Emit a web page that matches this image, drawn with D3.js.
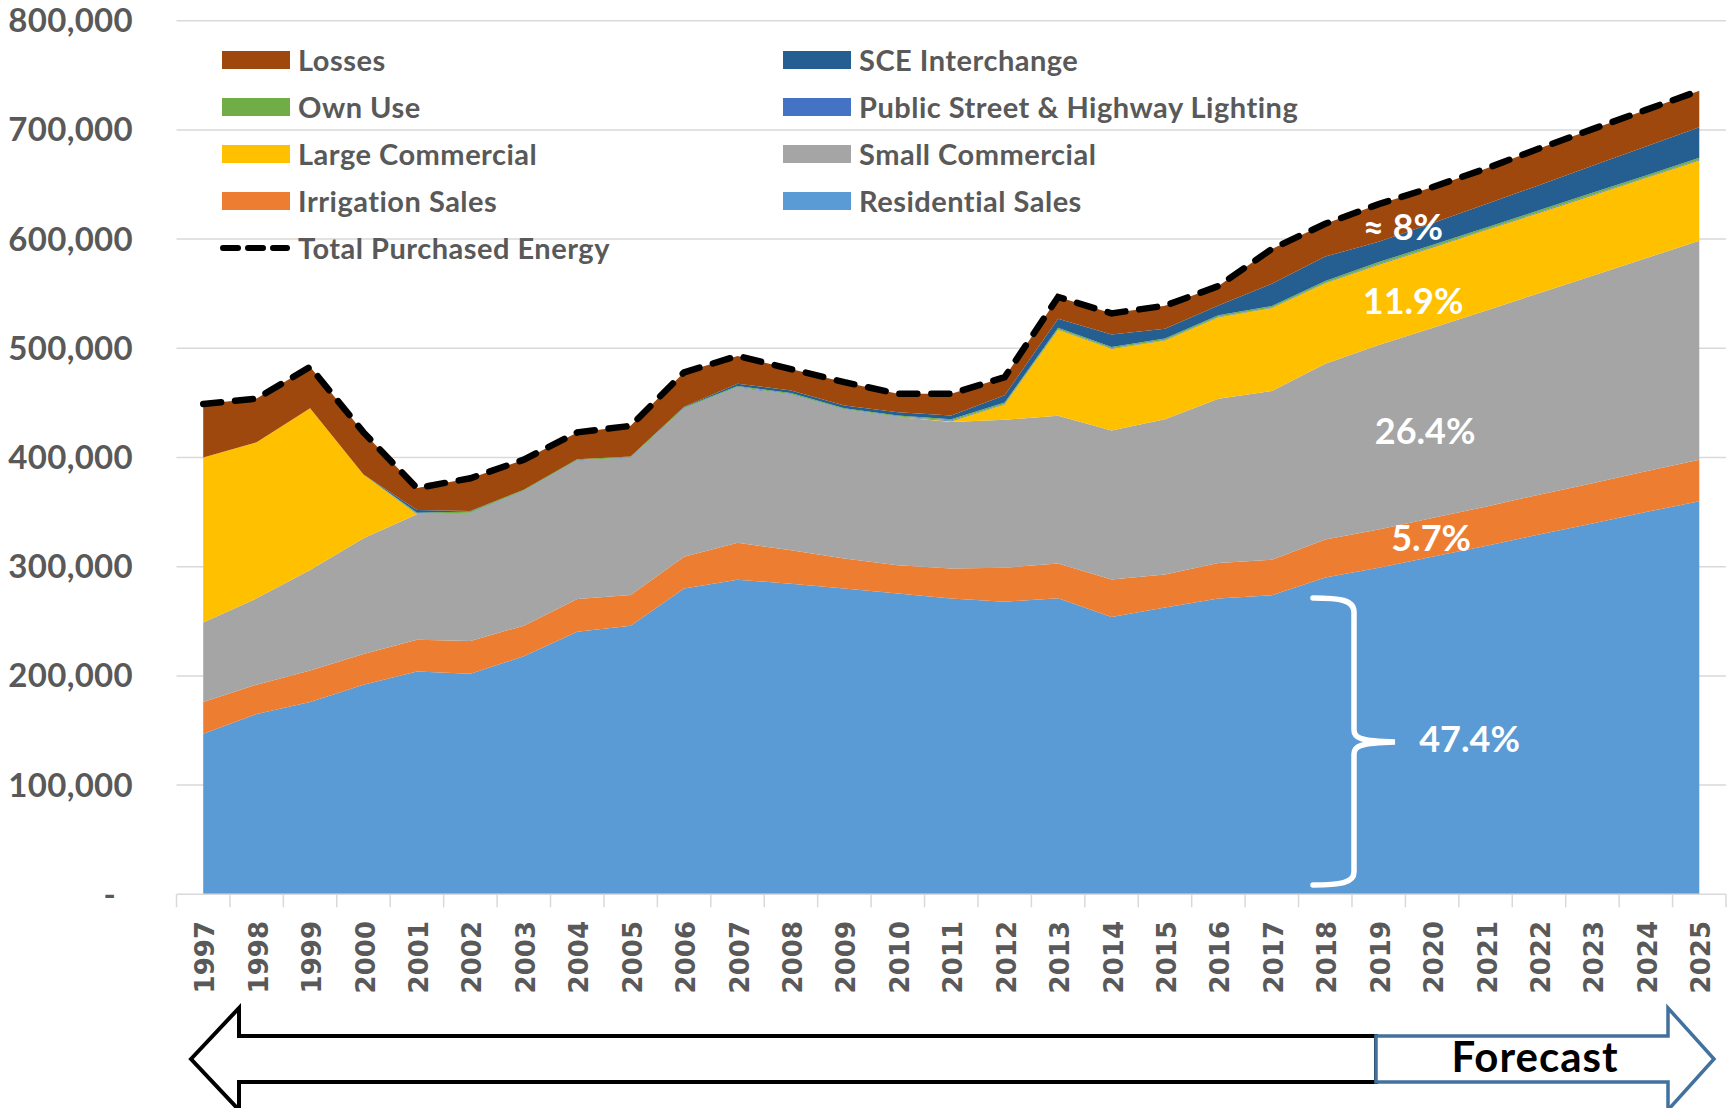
<!DOCTYPE html>
<html>
<head>
<meta charset="utf-8">
<script src="https://cdn.jsdelivr.net/npm/d3@7"></script>
<style>
  body { margin: 0; background: #ffffff; }
  #chart svg { display: block; }
</style>
</head>
<body>
<div id="chart"></div>
<script>

/* DATA (MWh) */
const years = ["1997","1998","1999","2000","2001","2002","2003","2004","2005","2006",
  "2007","2008","2009","2010","2011","2012","2013","2014","2015","2016",
  "2017","2018","2019","2020","2021","2022","2023","2024","2025"];

const residentialSales = [147000,165000,176000,192000,204000,202000,218000,240500,246000,280000,
  288000,284500,280000,275400,270800,268000,271000,254000,262600,270800,
  273800,290000,299000,309000,319000,329500,339500,350000,360000];
const irrigationSales = [29000,27000,29000,28000,29000,30000,28000,30000,28000,29000,
  34000,30500,27400,25900,27500,31000,32000,34200,30200,32600,
  32600,34800,35000,35500,36000,36500,37000,37500,38000];
const smallCommercial = [73000,79000,92000,106000,115000,117000,123000,126500,125500,135600,
  142000,142500,136300,135700,134100,135600,135200,136600,142300,150400,
  154400,161000,169000,174000,179500,184500,190000,195000,200500];
const largeCommercial = [151000,143000,148000,58500,0,0,0,0,0,0,
  0,0,0,0,900,14000,78800,74700,72000,74700,
  76000,73800,73600,73600,73500,73500,73500,73400,73500];
const publicLighting = [0,0,0,0,500,500,500,500,500,500,
  500,500,500,500,500,500,500,500,500,500,
  500,500,600,600,600,600,600,600,600];
const ownUse = [0,0,0,0,1000,1000,1000,1000,1000,1000,
  1000,1000,1000,1000,1200,1200,1300,1300,1300,1300,
  1400,1500,1800,1800,1800,1800,1800,1800,1800];
const sceInterchange = [0,0,0,0,2500,500,0,0,0,400,
  2000,2400,2500,3000,3500,6700,8200,11300,8900,8900,
  20300,22400,18500,20000,21500,23000,24800,26500,28000];
const losses = [49000,40000,38000,38500,20000,30000,27500,24500,28000,31500,
  25500,19600,21300,16900,19900,16600,20000,19400,21200,17800,
  32000,30000,34500,33000,32500,33500,33500,33500,33500];
const totalPurchased = [449000,454000,483000,423000,372000,381000,398000,423000,429000,478000,
  493000,481000,469000,458400,458400,473600,547000,532000,539000,557000,
  591000,614000,632000,647500,664400,682900,700700,718300,735900];

const yTicks = [0,100000,200000,300000,400000,500000,600000,700000,800000];

const seriesKeys = ["Residential Sales","Irrigation Sales","Small Commercial","Large Commercial",
  "Public Street & Highway Lighting","Own Use","SCE Interchange","Losses"];
const seriesValues = [residentialSales, irrigationSales, smallCommercial, largeCommercial,
  publicLighting, ownUse, sceInterchange, losses];
const seriesColors = ["#5b9bd5","#ed7d31","#a5a5a5","#ffc000","#4472c4","#70ad47","#255e91","#9e480e"];

const annotations = [
  {text: "\u2248 8%", year: "2020", value: 599000, dx: -29},
  {text: "11.9%", year: "2020", value: 531000, dx: -19},
  {text: "26.4%", year: "2020", value: 412000, dx: -7},
  {text: "5.7%", year: "2020", value: 314000, dx: -1},
  {text: "47.4%", year: "2021", value: 130000, dx: -16}
];

/* table for the stack */
const table = years.map(function(y, i) {
  const row = {year: y};
  seriesKeys.forEach(function(k, j) { row[k] = seriesValues[j][i]; });
  row.total = totalPurchased[i];
  return row;
});

const width = 1729;
const height = 1108;
const plot = {left: 176.5, right: 1726, top: 20.7, bottom: 894.3};
const labelFont = "Lato, 'Open Sans', sans-serif";

/*
CREATE THE SVG CANVAS
*/
const canvas = d3.select("#chart")
  .append("svg")
  .attr("width", width)
  .attr("height", height)
  .style("background", "#ffffff");

/* scales */
const xScale = d3.scaleBand()
  .domain(years)
  .range([plot.left, plot.right])
  .paddingInner(0)
  .paddingOuter(0);

const xMid = function(y) { return xScale(y) + xScale.bandwidth() / 2; };

const yScale = d3.scaleLinear()
  .domain([0, 800000])
  .range([plot.bottom, plot.top]);

const Color = d3.scaleOrdinal()
  .domain(seriesKeys)
  .range(seriesColors);

/* gridlines */
canvas.append("g")
  .selectAll("line")
  .data(yTicks.slice(1))
  .enter()
  .append("line")
  .attr("x1", plot.left)
  .attr("x2", plot.right)
  .attr("y1", function(d) { return yScale(d); })
  .attr("y2", function(d) { return yScale(d); })
  .attr("stroke", "#d9d9d9")
  .attr("stroke-width", 1.5);

/* y labels */
canvas.append("g")
  .selectAll("text")
  .data(yTicks)
  .enter()
  .append("text")
  .attr("x", function(d) { return d === 0 ? 116 : 133; })
  .attr("y", function(d) { return yScale(d) + 11.5; })
  .attr("text-anchor", "end")
  .attr("font-family", labelFont)
  .attr("font-weight", "bold")
  .attr("font-size", 33)
  .attr("letter-spacing", 0.3)
  .attr("fill", "#595959")
  .text(function(d) { return d === 0 ? "-" : d3.format(",")(d); });

/* stacked areas */
const stack = d3.stack().keys(seriesKeys);
const layers = stack(table);

const area = d3.area()
  .x(function(d) { return xMid(d.data.year); })
  .y0(function(d) { return yScale(d[0]); })
  .y1(function(d) { return yScale(d[1]); });

canvas.append("g")
  .selectAll("path")
  .data(layers)
  .enter()
  .append("path")
  .attr("d", area)
  .attr("fill", function(d) { return Color(d.key); });

/* x axis line + ticks */
canvas.append("line")
  .attr("x1", plot.left)
  .attr("x2", plot.right)
  .attr("y1", plot.bottom)
  .attr("y2", plot.bottom)
  .attr("stroke", "#d9d9d9")
  .attr("stroke-width", 1.5);

canvas.append("g")
  .selectAll("line")
  .data(years.concat(["end"]))
  .enter()
  .append("line")
  .attr("x1", function(d, i) { return plot.left + i * xScale.bandwidth(); })
  .attr("x2", function(d, i) { return plot.left + i * xScale.bandwidth(); })
  .attr("y1", plot.bottom)
  .attr("y2", plot.bottom + 13)
  .attr("stroke", "#d9d9d9")
  .attr("stroke-width", 1.5);

/* x labels */
canvas.append("g")
  .selectAll("text")
  .data(years)
  .enter()
  .append("text")
  .attr("transform", function(d) { return "translate(" + (xMid(d) + 11) + ",921) rotate(-90)"; })
  .attr("text-anchor", "end")
  .attr("font-family", "'DejaVu Sans', Verdana, sans-serif")
  .attr("font-weight", "bold")
  .attr("font-size", 26)
  .attr("fill", "#595959")
  .text(function(d) { return d; });

/* total purchased energy */
const totalLine = d3.line()
  .x(function(d) { return xMid(d.year); })
  .y(function(d) { return yScale(d.total); });

canvas.append("path")
  .datum(table)
  .attr("d", totalLine)
  .attr("fill", "none")
  .attr("stroke", "#000000")
  .attr("stroke-width", 6.5)
  .attr("stroke-dasharray", "18,14")
  .attr("stroke-linecap", "round");

/* percentage labels */
canvas.append("g")
  .selectAll("text")
  .data(annotations)
  .enter()
  .append("text")
  .attr("x", function(d) { return xMid(d.year) + d.dx; })
  .attr("y", function(d) { return yScale(d.value); })
  .attr("text-anchor", "middle")
  .attr("font-family", labelFont)
  .attr("font-weight", "bold")
  .attr("font-size", 36)
  .attr("fill", "#ffffff")
  .text(function(d) { return d.text; });

/* brace for residential */
canvas.append("path")
  .attr("d", "M1313,598 C1340,598 1354,600 1354,612 L1354,730 C1354,738 1360,741 1395,742 " +
             "C1360,743 1354,746 1354,754 L1354,872 C1354,883 1340,885 1313,885")
  .attr("fill", "none")
  .attr("stroke", "#ffffff")
  .attr("stroke-width", 5.5)
  .attr("stroke-linecap", "round");

/*
LEGEND
*/
const legendItems = [
  {key: "Losses", col: 0, row: 0},
  {key: "SCE Interchange", col: 1, row: 0},
  {key: "Own Use", col: 0, row: 1},
  {key: "Public Street & Highway Lighting", col: 1, row: 1},
  {key: "Large Commercial", col: 0, row: 2},
  {key: "Small Commercial", col: 1, row: 2},
  {key: "Irrigation Sales", col: 0, row: 3},
  {key: "Residential Sales", col: 1, row: 3}
];
const colX = [222, 783];
const rowY = function(r) { return 60 + r * 47; };

const legend = canvas.append("g");

legend.selectAll("rect")
  .data(legendItems)
  .enter()
  .append("rect")
  .attr("x", function(d) { return colX[d.col]; })
  .attr("y", function(d) { return rowY(d.row) - 9; })
  .attr("width", 68)
  .attr("height", 18)
  .attr("fill", function(d) { return Color(d.key); });

legend.selectAll("text")
  .data(legendItems)
  .enter()
  .append("text")
  .attr("x", function(d) { return colX[d.col] + 76; })
  .attr("y", function(d) { return rowY(d.row) + 10.5; })
  .attr("font-family", labelFont)
  .attr("font-weight", "bold")
  .attr("font-size", 29)
  .attr("letter-spacing", 0.5)
  .attr("fill", "#595959")
  .text(function(d) { return d.key; });

legend.append("line")
  .attr("x1", 223)
  .attr("x2", 287)
  .attr("y1", rowY(4))
  .attr("y2", rowY(4))
  .attr("stroke", "#000000")
  .attr("stroke-width", 6)
  .attr("stroke-dasharray", "15,10")
  .attr("stroke-linecap", "round");

legend.append("text")
  .attr("x", colX[0] + 76)
  .attr("y", rowY(4) + 10.5)
  .attr("font-family", labelFont)
  .attr("font-weight", "bold")
  .attr("font-size", 29)
  .attr("letter-spacing", 0.5)
  .attr("fill", "#595959")
  .text("Total Purchased Energy");

/*
HISTORY / FORECAST ARROWS
*/
canvas.append("path")
  .attr("d", "M191,1059 L239,1008 L239,1036 L1376,1036 L1376,1082 L239,1082 L239,1110 Z")
  .attr("fill", "#ffffff")
  .attr("stroke", "#000000")
  .attr("stroke-width", 4)
  .attr("stroke-linejoin", "miter");

canvas.append("path")
  .attr("d", "M1376,1036 L1668,1036 L1668,1008 L1714,1059 L1668,1110 L1668,1082 L1376,1082 Z")
  .attr("fill", "#ffffff")
  .attr("stroke", "#41719c")
  .attr("stroke-width", 3.5);

canvas.append("text")
  .attr("x", 1535)
  .attr("y", 1072)
  .attr("text-anchor", "middle")
  .attr("font-family", labelFont)
  .attr("font-weight", "bold")
  .attr("font-size", 42)
  .attr("letter-spacing", 1)
  .attr("fill", "#000000")
  .text("Forecast");

</script>
</body>
</html>
